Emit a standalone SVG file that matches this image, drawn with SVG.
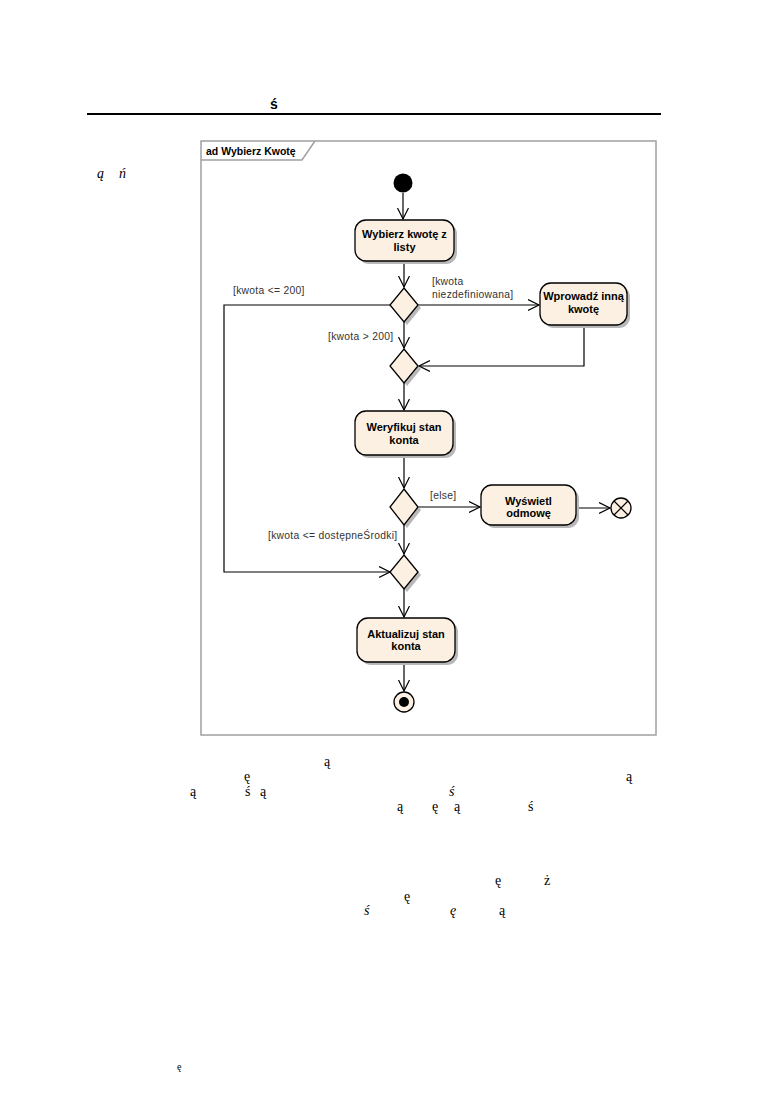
<svg xmlns="http://www.w3.org/2000/svg" width="774" height="1094" viewBox="0 0 774 1094">
<style>
.bg{fill:#ffffff}
.frame{fill:none;stroke:#a0a0a0;stroke-width:1.5}
.node{fill:#fbf0e1;stroke:#000;stroke-width:1.3}
.shadow{fill:#b8b8b8;stroke:none}
.lbl{font-family:"Liberation Sans",Arial,sans-serif;font-size:11px;font-weight:bold;fill:#000;text-anchor:middle}
.grd{font-family:"Liberation Sans",Arial,sans-serif;font-size:10.3px;letter-spacing:0.3px;fill:#333}
.ttl{font-family:"Liberation Sans",Arial,sans-serif;font-size:10.5px;font-weight:bold;fill:#000}
.edge{fill:none;stroke:#000;stroke-width:1.2}
.pg{font-family:"Liberation Serif","Times New Roman",serif;font-size:14px;fill:#000}
.pgi{font-family:"Liberation Serif","Times New Roman",serif;font-size:14px;font-style:italic;fill:#000}
</style>
<defs>
<marker id="arr" markerUnits="userSpaceOnUse" markerWidth="14" markerHeight="14" refX="11" refY="6" orient="auto">
<path d="M0,0.5 L11,6 L0,11.5" fill="none" stroke="#000" stroke-width="1.2"/>
</marker>
</defs>
<rect class="bg" x="0" y="0" width="774" height="1094"/>

<g id="page-text">
<text x="270" y="109" style="font-family:'Liberation Sans',Arial,sans-serif;font-size:14px;font-weight:bold">ś</text>
<line x1="87" y1="114" x2="661" y2="114" stroke="#000" stroke-width="2"/>
<text class="pgi" x="97" y="178">ą</text>
<text class="pgi" x="119" y="178">ń</text>
<text class="pg" x="324" y="766">ą</text>
<text class="pg" x="244" y="781">ę</text>
<text class="pg" x="626" y="781">ą</text>
<text class="pg" x="190" y="796">ą</text>
<text class="pg" x="245" y="796">ś</text>
<text class="pg" x="260" y="796">ą</text>
<text class="pgi" x="449" y="796">ś</text>
<text class="pg" x="397" y="811">ą</text>
<text class="pg" x="432" y="811">ę</text>
<text class="pg" x="454" y="811">ą</text>
<text class="pg" x="528" y="811">ś</text>
<text class="pg" x="495" y="885">ę</text>
<text class="pg" x="544" y="885">ż</text>
<text class="pg" x="404" y="901">ę</text>
<text class="pgi" x="364" y="915">ś</text>
<text class="pgi" x="450" y="915">ę</text>
<text class="pg" x="499" y="915">ą</text>
<text x="177" y="1070" style="font-family:'Liberation Serif',serif;font-size:10px">ę</text>
</g>

<g id="frame">
<rect class="frame" x="201" y="141" width="455" height="594"/>
<path class="frame" d="M201,160 L302,160 L315,141"/>
<text class="ttl" x="206" y="155">ad Wybierz Kwotę</text>
</g>

<g id="connectors">
<path class="edge" d="M403,193 L403,219" marker-end="url(#arr)"/>
<path class="edge" d="M404,261 L404,287" marker-end="url(#arr)"/>
<path class="edge" d="M418,305 L539,305" marker-end="url(#arr)"/>
<path class="edge" d="M390,305 L224,305 L224,572 L390,572" marker-end="url(#arr)"/>
<path class="edge" d="M404,322 L404,348" marker-end="url(#arr)"/>
<path class="edge" d="M584,325 L584,366 L419,366" marker-end="url(#arr)"/>
<path class="edge" d="M404,383 L404,410" marker-end="url(#arr)"/>
<path class="edge" d="M404,455 L404,488" marker-end="url(#arr)"/>
<path class="edge" d="M418,507 L480,507" marker-end="url(#arr)"/>
<path class="edge" d="M576,508 L610,508" marker-end="url(#arr)"/>
<path class="edge" d="M404,525 L404,554" marker-end="url(#arr)"/>
<path class="edge" d="M404,589 L404,617" marker-end="url(#arr)"/>
<path class="edge" d="M404,662 L404,691" marker-end="url(#arr)"/>
<text class="grd" x="233" y="294">[kwota &lt;= 200]</text>
<text class="grd" x="432" y="285">[kwota</text>
<text class="grd" x="432" y="298">niezdefiniowana]</text>
<text class="grd" x="328" y="340">[kwota &gt; 200]</text>
<text class="grd" x="430" y="499">[else]</text>
<text class="grd" x="268" y="539">[kwota &lt;= dostępneŚrodki]</text>
</g>

<g id="start">
<circle cx="403" cy="183" r="9.5" fill="#000"/>
</g>

<g id="n-wybierz">
<rect class="shadow" x="358" y="223" width="99" height="41" rx="11"/>
<rect class="node" x="355" y="220" width="99" height="41" rx="11"/>
<text class="lbl" x="404.5" y="238">Wybierz kwotę z</text>
<text class="lbl" x="404.5" y="251">listy</text>
</g>

<g id="d1">
<path class="shadow" d="M407,291 L421,308 L407,325 L393,308 Z"/>
<path class="node" d="M404,288 L418,305 L404,322 L390,305 Z"/>
</g>

<g id="n-wprowadz">
<rect class="shadow" x="543" y="286" width="87" height="42" rx="11"/>
<rect class="node" x="540" y="283" width="87" height="42" rx="11"/>
<text class="lbl" x="583.5" y="300">Wprowadź inną</text>
<text class="lbl" x="583.5" y="313">kwotę</text>
</g>

<g id="d2">
<path class="shadow" d="M407,352 L421,369 L407,386 L393,369 Z"/>
<path class="node" d="M404,349 L418,366 L404,383 L390,366 Z"/>
</g>

<g id="n-weryfikuj">
<rect class="shadow" x="358" y="414" width="98" height="44" rx="11"/>
<rect class="node" x="355" y="411" width="98" height="44" rx="11"/>
<text class="lbl" x="404" y="431">Weryfikuj stan</text>
<text class="lbl" x="404" y="444">konta</text>
</g>

<g id="d3">
<path class="shadow" d="M407,492 L421,510 L407,528 L393,510 Z"/>
<path class="node" d="M404,489 L418,507 L404,525 L390,507 Z"/>
</g>

<g id="n-wyswietl">
<rect class="shadow" x="484" y="488" width="95" height="40" rx="11"/>
<rect class="node" x="481" y="485" width="95" height="40" rx="11"/>
<text class="lbl" x="528.5" y="505">Wyświetl</text>
<text class="lbl" x="528.5" y="517">odmowę</text>
</g>

<g id="flow-final">
<circle class="node" cx="621" cy="508" r="10"/>
<path d="M614,501 L628,515 M628,501 L614,515" stroke="#000" stroke-width="1.2"/>
</g>

<g id="d4">
<path class="shadow" d="M407,558 L421,575 L407,592 L393,575 Z"/>
<path class="node" d="M404,555 L418,572 L404,589 L390,572 Z"/>
</g>

<g id="n-aktualizuj">
<rect class="shadow" x="360" y="621" width="98" height="44" rx="11"/>
<rect class="node" x="357" y="618" width="98" height="44" rx="11"/>
<text class="lbl" x="406" y="638">Aktualizuj stan</text>
<text class="lbl" x="406" y="650">konta</text>
</g>

<g id="final">
<circle class="node" cx="404" cy="702" r="10"/>
<circle cx="404" cy="702" r="5" fill="#000"/>
</g>
</svg>
